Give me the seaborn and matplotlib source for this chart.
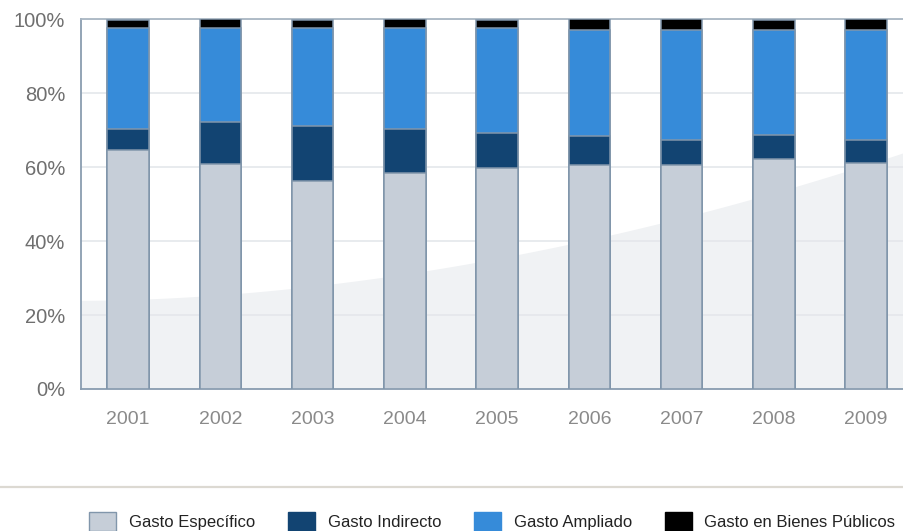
import matplotlib
matplotlib.use("Agg")
import matplotlib.pyplot as plt
from matplotlib.patches import Patch
from matplotlib.lines import Line2D
import numpy as np
import pandas as pd
import seaborn as sns

# Share of spending by type, per year (percent of total)
years = ["2001", "2002", "2003", "2004", "2005", "2006", "2007", "2008", "2009"]
gasto_especifico = [64.6, 60.8, 56.4, 58.4, 59.8, 60.7, 60.7, 62.2, 61.2]
gasto_indirecto = [5.8, 11.4, 14.9, 12.0, 9.6, 7.7, 6.8, 6.6, 6.3]
gasto_ampliado = [27.3, 25.5, 26.4, 27.3, 28.3, 28.8, 29.7, 28.4, 29.7]
gasto_bienes_publicos = [2.3, 2.3, 2.3, 2.3, 2.3, 2.8, 2.8, 2.8, 2.8]

series_names = ["Gasto Específico", "Gasto Indirecto", "Gasto Ampliado",
                "Gasto en Bienes Públicos"]
series_colors = ["#c6ced8", "#124472", "#368bd9", "#000000"]
edge_color = "#8196ab"
axis_color = "#8a9db0"

y_ticks = [0, 20, 40, 60, 80, 100]
y_tick_labels = ["0%", "20%", "40%", "60%", "80%", "100%"]

sns.set_theme(style="white")
plt.rcParams["font.family"] = ["Liberation Sans", "DejaVu Sans"]

fig = plt.figure(figsize=(9.04, 5.31), dpi=100)
ax = fig.add_axes([81 / 904, 1 - 389 / 531, 1 - 81 / 904, (389 - 19.5) / 531])

# Stacked bars: draw cumulative totals from the top segment down
df = pd.DataFrame({
    "year": years,
    "esp": gasto_especifico,
    "ind": gasto_indirecto,
    "amp": gasto_ampliado,
    "pub": gasto_bienes_publicos,
})
stack_cols = ["esp", "ind", "amp", "pub"]
cum = df[stack_cols].cumsum(axis=1)
for col, color in reversed(list(zip(stack_cols, series_colors))):
    sns.barplot(x=df["year"], y=cum[col], order=years, color=color,
                width=0.45, edgecolor=edge_color, linewidth=1.1,
                saturation=1, ax=ax, zorder=3)

ax.set_xlim(-0.51, 8.41)
ax.set_ylim(0, 100)

# Soft light backdrop rising toward the right
xs = np.linspace(-0.51, 8.41, 200)
t = (xs + 0.51) / 8.92
ys = 24 + 40 * t ** 1.85
ax.fill_between(xs, 0, ys, color="#f0f2f4", zorder=0, linewidth=0)

ax.set_yticks(y_ticks)
ax.set_yticklabels(y_tick_labels)
ax.yaxis.grid(True, color="#e4e7eb", linewidth=1.2, zorder=1)
ax.set_axisbelow(True)
ax.set_xlabel("")
ax.set_ylabel("")

ax.spines["right"].set_visible(False)
for side in ["left", "bottom", "top"]:
    ax.spines[side].set_color(axis_color)
    ax.spines[side].set_linewidth(1.3)
ax.spines["top"].set_color("#a9b6c3")

ax.tick_params(axis="y", length=0, pad=11.5, labelsize=14.5, labelcolor="#6f6f6f")
ax.tick_params(axis="x", length=0, pad=16, labelsize=14, labelcolor="#8a8a8a")

# Small separator ticks along the axes
ax.set_xticks([0.63, 1.61, 2.57, 3.61, 4.66, 5.63, 6.47, 7.54], minor=True)
ax.tick_params(axis="x", which="minor", direction="inout", length=8,
               width=1.2, color=axis_color)
ax.set_yticks([0, 100], minor=True)
ax.tick_params(axis="y", which="minor", direction="out", length=4,
               width=1.2, color=axis_color)

# Separator line above the legend
fig.add_artist(Line2D([0, 1], [1 - 487 / 531, 1 - 487 / 531],
                      color="#dcd9d2", linewidth=1.6))

handles = [Patch(facecolor=c, edgecolor=(edge_color if i == 0 else c), linewidth=1)
           for i, c in enumerate(series_colors)]
fig.legend(handles, series_names, loc="center left", ncol=4,
           bbox_to_anchor=(89 / 904, 0.018), frameon=False,
           prop={"size": 12},
           handlelength=1.65, handleheight=1.45, handletextpad=0.75,
           columnspacing=1.95, borderpad=0, borderaxespad=0, labelcolor="#222222")

fig.savefig("out.png", dpi=100)
